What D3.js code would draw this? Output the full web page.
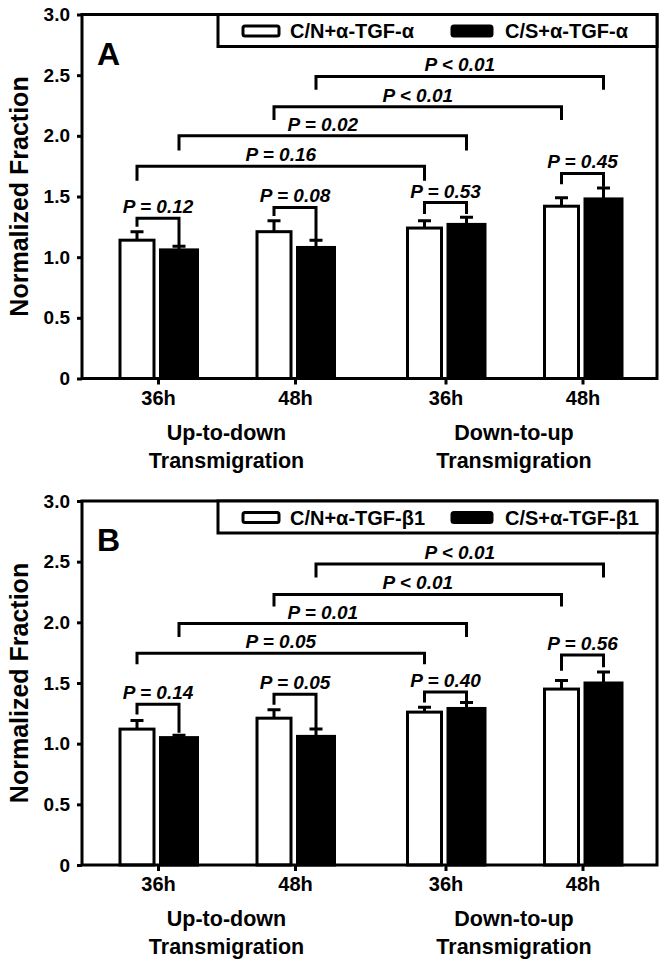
<!DOCTYPE html>
<html><head><meta charset="utf-8">
<script src="https://cdn.jsdelivr.net/npm/d3@7"></script>
<style>body{margin:0;background:#fff;} svg{display:block;}</style>
</head><body><svg id="c" width="664" height="967"></svg>
<script>
// ---------- data ----------
const categories = ["36h","48h","36h","48h"];
const groupNames = ["Up-to-down","Down-to-up"];
const groupLine2 = "Transmigration";
const yTicks = [0,0.5,1.0,1.5,2.0,2.5,3.0];
const yTickLabels = ["0","0.5","1.0","1.5","2.0","2.5","3.0"];
const yTitle = "Normalized Fraction";

// Panel A
const legendA = ["C/N+\u03b1-TGF-\u03b1","C/S+\u03b1-TGF-\u03b1"];
const cnA = [1.14,1.21,1.24,1.42];
const cnErrA = [0.07,0.09,0.06,0.07];
const csA = [1.06,1.08,1.27,1.48];
const csErrA = [0.03,0.06,0.06,0.09];
const pairYA = [1.32,1.41,1.45,1.69];
const pairLegLA = [1.25,1.34,1.355,1.60];
const pairLegRA = [1.095,1.15,1.355,1.58];
const pairLabelA = ["P = 0.12","P = 0.08","P = 0.53","P = 0.45"];
const crossFromA = [1,1,0,0];
const crossToA = [3,3,2,2];
const crossSeriesA = [1,0,1,0];
const crossYA = [2.49,2.24,2.0,1.75];
const crossLegA = [2.38,2.13,1.88,1.63];
const crossLabelA = ["P < 0.01","P < 0.01","P = 0.02","P = 0.16"];

// Panel B
const legendB = ["C/N+\u03b1-TGF-\u03b21","C/S+\u03b1-TGF-\u03b21"];
const cnB = [1.12,1.21,1.26,1.45];
const cnErrB = [0.07,0.07,0.04,0.07];
const csB = [1.05,1.06,1.29,1.50];
const csErrB = [0.02,0.06,0.05,0.09];
const pairYB = [1.324,1.407,1.426,1.73];
const pairLegLB = [1.24,1.32,1.34,1.60];
const pairLegRB = [1.09,1.13,1.35,1.63];
const pairLabelB = ["P = 0.14","P = 0.05","P = 0.40","P = 0.56"];
const crossFromB = [1,1,0,0];
const crossToB = [3,3,2,2];
const crossSeriesB = [1,0,1,0];
const crossYB = [2.48,2.23,1.99,1.745];
const crossLegB = [2.37,2.13,1.88,1.655];
const crossLabelB = ["P < 0.01","P < 0.01","P = 0.01","P = 0.05"];

// ---------- layout ----------
const FONT = "'Liberation Sans', Arial, sans-serif";
const svg = d3.select("#c");
const L = 82, R = 657, H = 364, SW = 3;
const outer = d3.scaleBand().domain([0,1]).range([L,R]);
const inner = d3.scalePoint().domain([0,1]).range([76,213]);
const keys = categories.map((c,i)=>i);
const xPos = d3.scaleOrdinal().domain(keys).range(keys.map(i=>outer(Math.floor(i/2))+inner(i%2)));

function drawPanel(top, d) {
  const g = svg.append("g");
  const y = d3.scaleLinear().domain([0,3]).range([top+H, top]);
  const bx = (gi, s) => xPos(gi) + (s===0 ? -21 : 21);
  const vals = [d.cn, d.cs], errs = [d.cnErr, d.csErr];

  [0,1].forEach(s => {
    g.append("g").selectAll("rect").data(vals[s]).join("rect")
      .attr("x",(v,i)=>bx(i,s)-(s?18.5:17)).attr("width",s?37:34)
      .attr("y",v=>y(v)).attr("height",v=>y(0)-y(v))
      .attr("fill", s ? "#000" : "#fff").attr("stroke","#000").attr("stroke-width",SW);
    g.append("g").selectAll("path").data(vals[s]).join("path")
      .attr("d",(v,i)=>{const x=bx(i,s), y0=y(v), y1=y(v+errs[s][i]);
        return `M${x},${y0}V${y1}M${x-6.5},${y1}H${x+6.5}`;})
      .attr("stroke","#000").attr("stroke-width",SW).attr("fill","none");
  });

  // frame
  g.append("rect").attr("x",L).attr("y",top).attr("width",R-L).attr("height",H)
    .attr("fill","none").attr("stroke","#000").attr("stroke-width",SW);

  // y axis
  const ya = g.append("g").attr("transform",`translate(${L},0)`)
    .call(d3.axisLeft(y).tickValues(yTicks).tickFormat((v,i)=>yTickLabels[i]).tickSize(5).tickPadding(7));
  ya.select(".domain").remove();
  ya.selectAll("line").attr("stroke","#000").attr("stroke-width",SW);
  ya.selectAll("text").attr("font-family",FONT).attr("font-weight","bold").attr("font-size",19).attr("fill","#000");

  // x axis
  const xa = g.append("g").attr("transform",`translate(0,${top+H})`)
    .call(d3.axisBottom(xPos).tickFormat(i=>categories[i]).tickSize(6).tickPadding(6));
  xa.select(".domain").remove();
  xa.selectAll("line").attr("stroke","#000").attr("stroke-width",SW);
  xa.selectAll("text").attr("font-family",FONT).attr("font-weight","bold").attr("font-size",20).attr("fill","#000");

  // group labels
  groupNames.forEach((name, gi) => {
    const cx = outer(gi) + (inner(0)+inner(1))/2;
    g.append("text").attr("x",cx).attr("y",top+H+61).attr("text-anchor","middle")
      .attr("font-family",FONT).attr("font-weight","bold").attr("font-size",21.5).text(name);
    g.append("text").attr("x",cx).attr("y",top+H+89).attr("text-anchor","middle")
      .attr("font-family",FONT).attr("font-weight","bold").attr("font-size",21.5).text(groupLine2);
  });

  // y title
  g.append("text").attr("transform",`translate(28,${top+H/2}) rotate(-90)`)
    .attr("text-anchor","middle").attr("font-family",FONT).attr("font-weight","bold")
    .attr("font-size",25).text(yTitle);

  // legend
  g.append("rect").attr("x",218).attr("y",top).attr("width",R-218).attr("height",32)
    .attr("fill","#fff").attr("stroke","#000").attr("stroke-width",SW);
  const legX = [243, 452], legTX = [290, 505];
  [0,1].forEach(s => {
    g.append("rect").attr("x",legX[s]).attr("y",top+11.5).attr("width",s?40:36).attr("height",10)
      .attr("rx",2).attr("fill", s ? "#000" : "#fff").attr("stroke","#000").attr("stroke-width",SW);
    g.append("text").attr("x",legTX[s]).attr("y",top+23.5).attr("font-family",FONT)
      .attr("font-weight","bold").attr("font-size",20).text(d.legend[s]);
  });

  // panel letter
  g.append("text").attr("x",97).attr("y",top+50).attr("font-family",FONT).attr("font-weight","bold")
    .attr("font-size",32).text(d.letter);

  const pStyle = t => t.attr("text-anchor","middle").attr("font-family",FONT)
    .attr("font-weight","bold").attr("font-style","italic").attr("font-size",19);

  // pair brackets
  d.pairY.forEach((py, gi) => {
    const x0 = bx(gi,0), x1 = bx(gi,1);
    g.append("path").attr("d",`M${x0},${y(d.pairL[gi])}V${y(py)}H${x1}V${y(d.pairR[gi])}`)
      .attr("fill","none").attr("stroke","#000").attr("stroke-width",SW);
    g.append("text").attr("x",(x0+x1)/2).attr("y",y(py)-5).call(pStyle).text(d.pairLabel[gi]);
  });

  // cross brackets
  d.crossY.forEach((cy, k) => {
    const x0 = bx(d.crossFrom[k], d.crossSeries[k]), x1 = bx(d.crossTo[k], d.crossSeries[k]);
    g.append("path").attr("d",`M${x0},${y(d.crossLeg[k])}V${y(cy)}H${x1}V${y(d.crossLeg[k])}`)
      .attr("fill","none").attr("stroke","#000").attr("stroke-width",SW);
    g.append("text").attr("x",(x0+x1)/2).attr("y",y(cy)-5).call(pStyle).text(d.crossLabel[k]);
  });
}

drawPanel(14.5, {letter:"A", legend:legendA, cn:cnA, cnErr:cnErrA, cs:csA, csErr:csErrA,
  pairY:pairYA, pairL:pairLegLA, pairR:pairLegRA, pairLabel:pairLabelA,
  crossFrom:crossFromA, crossTo:crossToA, crossSeries:crossSeriesA, crossY:crossYA, crossLeg:crossLegA, crossLabel:crossLabelA});
drawPanel(501, {letter:"B", legend:legendB, cn:cnB, cnErr:cnErrB, cs:csB, csErr:csErrB,
  pairY:pairYB, pairL:pairLegLB, pairR:pairLegRB, pairLabel:pairLabelB,
  crossFrom:crossFromB, crossTo:crossToB, crossSeries:crossSeriesB, crossY:crossYB, crossLeg:crossLegB, crossLabel:crossLabelB});
</script></body></html>
